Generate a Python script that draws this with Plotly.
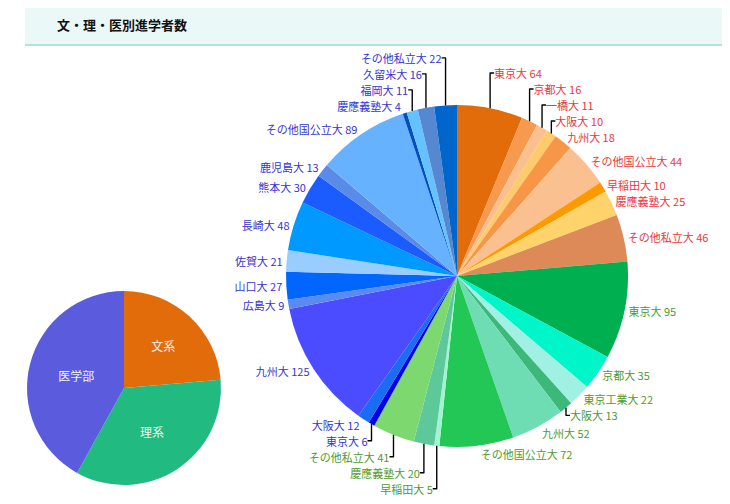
import plotly.graph_objects as go

W, H = 730, 504
OFF = 8  # ページ本体の余白分

# 文系
bun_labels = ["東京大", "京都大", "一橋大", "大阪大", "九州大", "その他国公立大", "早稲田大", "慶應義塾大", "その他私立大"]
bun_values = [64, 16, 11, 10, 18, 44, 10, 25, 46]
bun_colors = ["#E36C0A", "#F7994E", "#FAC090", "#FDCB6A", "#F79646", "#FAC090", "#FF9900", "#FFD36B", "#DE8A58"]

# 理系
ri_labels = ["東京大", "京都大", "東京工業大", "大阪大", "九州大", "その他国公立大", "早稲田大", "慶應義塾大", "その他私立大"]
ri_values = [95, 35, 22, 13, 52, 72, 5, 20, 41]
ri_colors = ["#00B050", "#00F5C8", "#A0F0E4", "#3CB878", "#6EDDB4", "#22C755", "#A0F5D0", "#5DC99A", "#7DD870"]

# 医学部
i_labels = ["東京大", "大阪大", "九州大", "広島大", "山口大", "佐賀大", "長崎大", "熊本大", "鹿児島大",
            "その他国公立大", "慶應義塾大", "福岡大", "久留米大", "その他私立大"]
i_values = [6, 12, 125, 9, 27, 21, 48, 30, 13, 89, 4, 11, 16, 22]
i_colors = ["#0000E8", "#1A6CF5", "#4B4BFF", "#5A8BF0", "#0066FF", "#99CCFF", "#0099FF", "#1A5CFF", "#5B8BE8",
            "#66B2FF", "#0050C0", "#66C2FF", "#5588D0", "#0066CC"]

group_labels = ["文系", "理系", "医学部"]
group_colors = ["#E36C0A", "#21BA80", "#5B5BDD"]
text_colors = ["#E8383D", "#4E9A2E", "#3535D0"]

group_values = [sum(bun_values), sum(ri_values), sum(i_values)]

labels = bun_labels + ri_labels + i_labels
values = bun_values + ri_values + i_values
colors = bun_colors + ri_colors + i_colors
tcolors = ([text_colors[0]] * len(bun_values) + [text_colors[1]] * len(ri_values)
           + [text_colors[2]] * len(i_values))


def px(x):
    return (x - OFF) / W


def py(y):
    return 1 - (y - OFF) / H


fig = go.Figure()

# 右：大学別
fig.add_trace(go.Pie(
    labels=[f"{g}-{l}" for g, n in zip(group_labels, [bun_labels, ri_labels, i_labels]) for l in n],
    values=values,
    text=labels,
    texttemplate="%{text} %{value}",
    textposition="outside",
    sort=False, direction="clockwise",
    marker=dict(colors=colors, line=dict(width=0)),
    outsidetextfont=dict(color=tcolors, size=11, family="Noto Sans CJK JP"),
    domain=dict(x=[px(457 - 171), px(457 + 171)], y=[py(447), py(105)]),
    showlegend=False, hoverinfo="label+value",
))

# 左：文・理・医
fig.add_trace(go.Pie(
    labels=group_labels, values=group_values,
    textinfo="label", textposition="inside", insidetextorientation="horizontal",
    sort=False, direction="clockwise",
    marker=dict(colors=group_colors, line=dict(width=0)),
    insidetextfont=dict(color="#F4F4F4", size=12, family="Noto Sans CJK JP"),
    domain=dict(x=[px(124 - 97), px(124 + 97)], y=[py(485), py(291)]),
    showlegend=False,
))

fig.update_layout(
    width=W, height=H,
    margin=dict(l=0, r=0, t=0, b=0),
    paper_bgcolor="white",
    shapes=[
        dict(type="rect", xref="paper", yref="paper",
             x0=px(25), x1=px(725), y0=py(45), y1=py(5),
             fillcolor="#EAF8F8", line=dict(width=0), layer="below"),
        dict(type="line", xref="paper", yref="paper",
             x0=px(25), x1=px(725), y0=py(45), y1=py(45),
             line=dict(color="#9ED8D8", width=1.5)),
    ],
    annotations=[
        dict(text="<b>文・理・医別進学者数</b>", xref="paper", yref="paper",
             x=px(55), y=py(25), xanchor="left", yanchor="middle", showarrow=False,
             font=dict(size=13, color="#111111", family="Noto Sans CJK JP")),
    ],
)

fig.write_html("out.html")
